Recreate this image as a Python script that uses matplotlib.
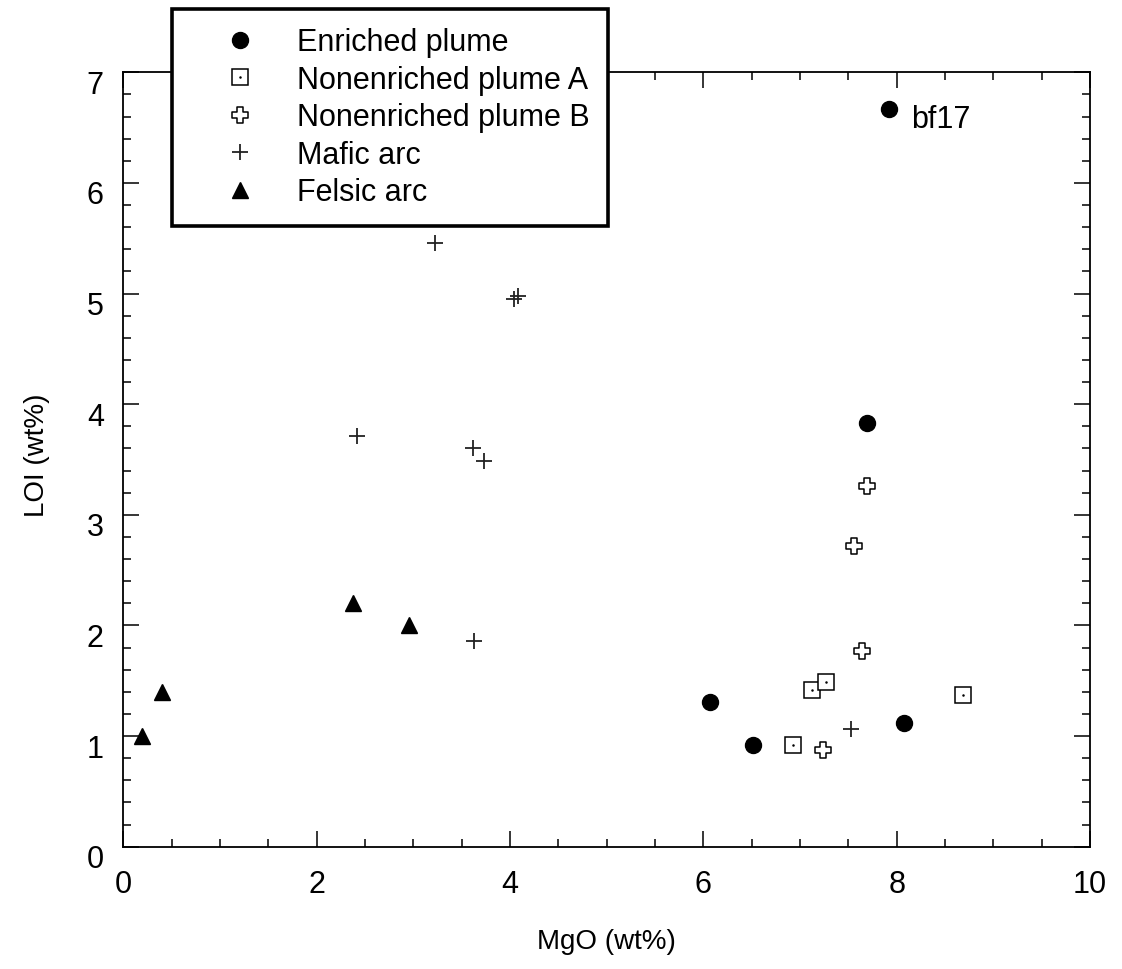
import matplotlib
matplotlib.use("Agg")
import matplotlib.pyplot as plt
import matplotlib.transforms as mtransforms
from matplotlib.path import Path
from matplotlib.ticker import MultipleLocator

plt.rcParams["font.family"] = ["Liberation Sans", "DejaVu Sans"]

# MgO and LOI (wt%) by rock group
enriched_mgo = [7.92, 7.69, 6.07, 6.51, 8.08]
enriched_loi = [6.67, 3.83, 1.31, 0.92, 1.12]

plume_a_mgo = [6.93, 7.12, 7.27, 8.69]
plume_a_loi = [0.92, 1.42, 1.49, 1.37]

plume_b_mgo = [7.69, 7.56, 7.64, 7.24]
plume_b_loi = [3.26, 2.72, 1.77, 0.87]

mafic_mgo = [3.22, 4.04, 4.08, 2.42, 3.62, 3.73, 3.63, 7.53]
mafic_loi = [5.46, 4.95, 4.98, 3.71, 3.60, 3.49, 1.86, 1.06]

felsic_mgo = [0.19, 0.40, 2.38, 2.96]
felsic_loi = [1.00, 1.40, 2.20, 2.00]

labelled_sample = "bf17"
labelled_mgo = 7.92
labelled_loi = 6.67

group_names = ["Enriched plume", "Nonenriched plume A", "Nonenriched plume B",
               "Mafic arc", "Felsic arc"]

# open Greek-cross marker
a = 0.36
cross_verts = [(-a, 1), (a, 1), (a, a), (1, a), (1, -a), (a, -a), (a, -1),
               (-a, -1), (-a, -a), (-1, -a), (-1, a), (-a, a), (-a, 1)]
cross_path = Path(cross_verts, closed=True)

fig = plt.figure(figsize=(11.22, 9.70), dpi=100)
ax = fig.add_axes([0.1099, 0.1261, 0.8616, 0.7983])

h_enr, = ax.plot(enriched_mgo, enriched_loi, "o", ms=11.5, color="black",
                 linestyle="none", zorder=3)
h_sqa, = ax.plot(plume_a_mgo, plume_a_loi, "s", ms=11.5, mfc="white",
                 mec="black", mew=1.1, linestyle="none", zorder=3)
h_sqd, = ax.plot(plume_a_mgo, plume_a_loi, ".", ms=1.6, color="black",
                 linestyle="none", zorder=4)
h_crs, = ax.plot(plume_b_mgo, plume_b_loi, marker=cross_path, ms=12,
                 mfc="white", mec="black", mew=1.1, linestyle="none", zorder=3)
h_pls, = ax.plot(mafic_mgo, mafic_loi, "+", ms=12, mew=1.3, color="#222222",
                 linestyle="none", zorder=3)
h_tri, = ax.plot(felsic_mgo, felsic_loi, "^", ms=12, color="black",
                 linestyle="none", zorder=3)

ax.annotate(labelled_sample, (labelled_mgo, labelled_loi),
            xytext=(16, -7), textcoords="offset points",
            ha="left", va="center", fontsize=22)

ax.set_xlim(0, 10)
ax.set_ylim(0, 7)
ax.xaxis.set_major_locator(MultipleLocator(2))
ax.xaxis.set_minor_locator(MultipleLocator(0.5))
ax.yaxis.set_major_locator(MultipleLocator(1))
ax.yaxis.set_minor_locator(MultipleLocator(0.2))

ax.tick_params(which="both", direction="in", top=True, right=True,
               width=1.1, color="black")
ax.tick_params(which="major", length=11.5, labelsize=22, pad=16)
ax.tick_params(which="minor", length=5.8)
ax.tick_params(axis="y", which="major", pad=14)
for sp in ax.spines.values():
    sp.set_linewidth(1.3)

# y tick labels sit a little below their ticks
shift = mtransforms.ScaledTranslation(0, -9 / 100, fig.dpi_scale_trans)
for lbl in ax.get_yticklabels():
    lbl.set_transform(lbl.get_transform() + shift)

ax.set_xlabel("MgO (wt%)", fontsize=20, va="center")
ax.xaxis.set_label_coords(0.5, -0.1218)
ax.set_ylabel("LOI (wt%)", fontsize=20, va="center", ha="center")
ax.yaxis.set_label_coords(-0.089, 0.507)

leg = fig.legend([h_enr, (h_sqa, h_sqd), h_crs, h_pls, h_tri], group_names,
                 loc="upper left", bbox_to_anchor=(171.7 / 1122, 1 - 10 / 970),
                 fontsize=22, frameon=True, fancybox=False, shadow=False,
                 borderpad=0.6, handlelength=3.3, handletextpad=0.2,
                 labelspacing=0.246, numpoints=1, borderaxespad=0)
frame = leg.get_frame()
frame.set_edgecolor("black")
frame.set_linewidth(2.6)
frame.set_facecolor("white")
frame.set_alpha(1)

fig.savefig("out.png", dpi=100)
